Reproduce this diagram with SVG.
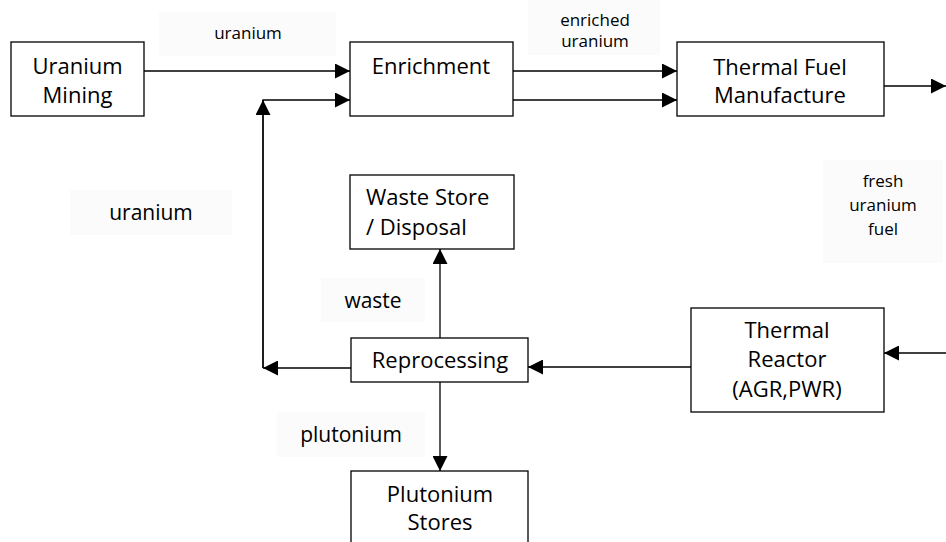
<svg xmlns="http://www.w3.org/2000/svg" width="946" height="542" viewBox="0 0 946 542">
<style>
.node rect{fill:#fff;stroke:#000;stroke-width:1.3}
.nt{font-family:"Open Sans","Noto Sans","Liberation Sans",sans-serif;font-size:22px;fill:#000;text-anchor:middle}
.lb rect{fill:#fbfbfb;stroke:none}
.lt{font-family:"Open Sans","Noto Sans","Liberation Sans",sans-serif;fill:#000;text-anchor:middle}
.s{font-size:17px}
.b{font-size:21px}
.conn path{fill:none;stroke:#000;stroke-width:1.3}
</style>
<defs>
<marker id="ah" viewBox="0 0 10 10" refX="10" refY="5" markerWidth="15" markerHeight="15" markerUnits="userSpaceOnUse" orient="auto">
<path d="M0,0 L10,5 L0,10 Z" fill="#000"/>
</marker>
</defs>
<rect width="946" height="542" fill="#fff"/>
<g id="labels">
<g class="lb" id="lbl-uranium-top"><rect x="159" y="12" width="177" height="44"/><text class="lt s" x="248" y="39">uranium</text></g>
<g class="lb" id="lbl-enriched"><rect x="528" y="0" width="132" height="55"/><text class="lt s" x="595" y="26">enriched</text><text class="lt s" x="595" y="47">uranium</text></g>
<g class="lb" id="lbl-uranium-left"><rect x="70" y="190" width="162" height="45"/><text class="lt b" x="151" y="220">uranium</text></g>
<g class="lb" id="lbl-waste"><rect x="321" y="278" width="104" height="44"/><text class="lt b" x="373" y="308">waste</text></g>
<g class="lb" id="lbl-plutonium"><rect x="277" y="412" width="148" height="45"/><text class="lt b" x="351" y="442">plutonium</text></g>
<g class="lb" id="lbl-fresh"><rect x="823" y="160" width="120" height="103"/><text class="lt s" x="883" y="187">fresh</text><text class="lt s" x="883" y="211">uranium</text><text class="lt s" x="883" y="235">fuel</text></g>
</g>
<g class="conn" id="connectors">
<path d="M144,71 H350" marker-end="url(#ah)"/>
<path d="M263,368 V100 H350" marker-end="url(#ah)"/>
<path d="M263,368 V100" marker-end="url(#ah)"/>
<path d="M513,71 H677" marker-end="url(#ah)"/>
<path d="M513,100 H677" marker-end="url(#ah)"/>
<path d="M884,86 H946" marker-end="url(#ah)"/>
<path d="M946,353 H884" marker-end="url(#ah)"/>
<path d="M691,367 H528" marker-end="url(#ah)"/>
<path d="M351,368 H263" marker-end="url(#ah)"/>
<path d="M440,338 V249" marker-end="url(#ah)"/>
<path d="M440,382 V471" marker-end="url(#ah)"/>
</g>
<g class="node" id="uranium-mining"><rect x="11" y="42" width="133" height="74"/><text class="nt" x="77.5" y="74">Uranium</text><text class="nt" x="77.5" y="103">Mining</text></g>
<g class="node" id="enrichment"><rect x="350" y="42" width="163" height="74"/><text class="nt" x="431" y="74">Enrichment</text></g>
<g class="node" id="thermal-fuel"><rect x="677" y="42" width="207" height="74"/><text class="nt" x="780" y="75">Thermal Fuel</text><text class="nt" x="780" y="103">Manufacture</text></g>
<g class="node" id="waste-store"><rect x="350" y="175" width="164" height="74"/><text class="nt" x="366" y="205" style="text-anchor:start">Waste Store</text><text class="nt" x="366" y="235" style="text-anchor:start">/ Disposal</text></g>
<g class="node" id="reprocessing"><rect x="351" y="338" width="177" height="44"/><text class="nt" x="440" y="368">Reprocessing</text></g>
<g class="node" id="plutonium-stores"><rect x="351" y="471" width="177" height="80"/><text class="nt" x="440" y="502">Plutonium</text><text class="nt" x="440" y="530">Stores</text></g>
<g class="node" id="thermal-reactor"><rect x="691" y="308" width="193" height="104"/><text class="nt" x="787" y="338">Thermal</text><text class="nt" x="787" y="367">Reactor</text><text class="nt" x="787" y="397">(AGR,PWR)</text></g>
</svg>
